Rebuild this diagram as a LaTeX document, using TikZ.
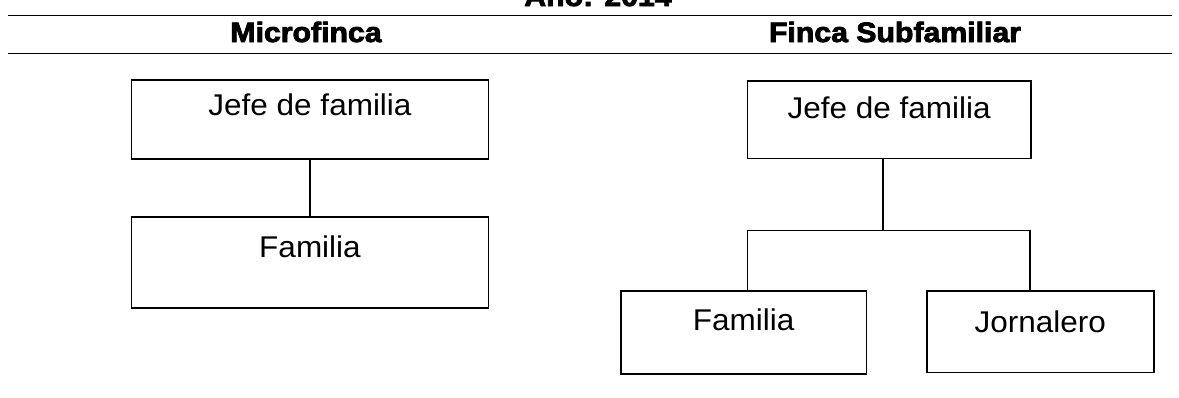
\documentclass[tikz,border=0pt]{standalone}
\usepackage{fontspec}
\setmainfont{Liberation Sans}
\newfontfamily\bodyfont{Liberation Sans}[FakeStretch=1.05]
\newfontfamily\headfont{Liberation Sans Bold}[FakeStretch=1.08,FakeBold=3]
\begin{document}
\begin{tikzpicture}[x=1pt,y=-1pt,
  orgbox/.style={draw,line width=1.6pt,inner xsep=0pt,inner ysep=0pt,
    font=\bodyfont\fontsize{30}{30}\selectfont},
  heading/.style={anchor=base,inner sep=0pt,
    font=\headfont\fontsize{28}{28}\selectfont},
  rule/.style={line width=1.5pt},
  link/.style={line width=1.4pt}]
  \useasboundingbox (0,0) rectangle (1179,397);
  \clip (0,0) rectangle (1179,397);

  % title and column headings between two rules
  \node[heading] (year) at (598,6) {Año: 2014};
  \coordinate (r1a) at (8,15.5);  \coordinate (r1b) at (1172,15.5);
  \coordinate (r2a) at (8,53.5);  \coordinate (r2b) at (1172,53.5);
  \draw[rule] (r1a) -- (r1b);
  \draw[rule] (r2a) -- (r2b);
  \node[heading] (hmicro) at (306,42) {Microfinca};
  \node[heading] (hsub) at (895,42) {Finca Subfamiliar};

  % Microfinca
  \node[orgbox,anchor=north west,minimum width=357pt,text height=36pt,text depth=43pt]
    (jefeL) at (130.7,79) {Jefe de familia};
  \node[orgbox,anchor=north west,minimum width=357pt,text height=40.7pt,text depth=50.3pt]
    (famL) at (130.7,216) {Familia};
  \draw[link] (jefeL.south) -- (famL.north);

  % Finca Subfamiliar
  \node[orgbox,anchor=north west,minimum width=283.3pt,text height=38pt,text depth=39.7pt]
    (jefeR) at (746.7,80) {Jefe de familia};
  \node[orgbox,anchor=north west,minimum width=245.7pt,text height=40pt,text depth=43pt]
    (famR) at (620,290) {Familia};
  \node[orgbox,anchor=north west,minimum width=227pt,text height=41.7pt,text depth=40pt]
    (jorR) at (926,290) {Jornalero};
  \coordinate (bus) at (883,230.7);
  \coordinate (busL) at (747.7,230.7);
  \coordinate (busR) at (1030,230.7);
  \draw[link] (jefeR.south -| bus) -- (bus);
  \draw[link] (famR.north -| busL) -- (busL) -- (busR) -- (jorR.north -| busR);
\end{tikzpicture}
\end{document}
